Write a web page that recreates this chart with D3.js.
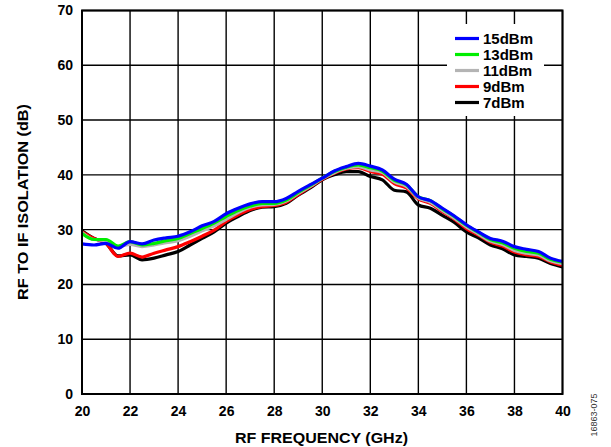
<!DOCTYPE html>
<html>
<head>
<meta charset="utf-8">
<script src="https://cdn.jsdelivr.net/npm/d3@7"></script>
<style>
  body { margin: 0; background: #fff; }
  svg { display: block; font-family: "Liberation Sans", Arial, sans-serif; }
</style>
</head>
<body>
<div id="chart"></div>
<script>
// frequencies in GHz, 0.5 GHz steps
var freq = [20, 20.5, 21, 21.5, 22, 22.5, 23, 23.5, 24, 24.5, 25, 25.5, 26, 26.5, 27, 27.5,
            28, 28.5, 29, 29.5, 30, 30.5, 31, 31.5, 32, 32.5, 33, 33.5, 34, 34.5, 35, 35.5,
            36, 36.5, 37, 37.5, 38, 38.5, 39, 39.5, 40];

var iso15 = [27.4, 27.2, 27.5, 26.6, 27.8, 27.4, 28.1, 28.5, 28.8, 29.6, 30.7, 31.5, 32.9, 33.9, 34.7, 35.1,
             35.1, 35.7, 37.0, 38.2, 39.4, 40.7, 41.5, 42.1, 41.6, 40.9, 39.2, 38.3, 36.0, 35.3, 33.9, 32.5,
             30.9, 29.6, 28.4, 27.9, 26.9, 26.4, 26.0, 24.8, 24.2];
var iso13 = [29.3, 28.2, 28.2, 27.0, 27.8, 27.2, 27.5, 28.0, 28.4, 29.3, 30.2, 31.2, 32.4, 33.5, 34.3, 34.8,
             34.8, 35.4, 36.8, 38.1, 39.4, 40.6, 41.4, 41.8, 41.3, 40.7, 39.0, 38.2, 36.0, 35.3, 33.8, 32.4,
             30.8, 29.5, 28.2, 27.6, 26.6, 26.0, 25.7, 24.6, 24.1];
var iso11 = [29.5, 28.2, 28.0, 26.9, 27.3, 26.9, 27.2, 27.6, 28.0, 28.8, 29.8, 30.7, 31.9, 33.1, 34.1, 34.5,
             34.6, 35.2, 36.6, 37.9, 39.3, 40.4, 41.2, 41.5, 40.9, 40.4, 38.7, 37.9, 35.8, 35.0, 33.5, 32.1,
             30.5, 29.2, 27.9, 27.3, 26.2, 25.7, 25.4, 24.3, 23.8];
var iso9  = [29.6, 28.4, 27.5, 25.1, 25.7, 25.0, 25.7, 26.3, 26.9, 27.8, 28.8, 29.9, 31.5, 32.7, 33.7, 34.2,
             34.4, 35.0, 36.4, 37.8, 39.2, 40.3, 41.1, 41.3, 40.6, 40.1, 38.4, 37.6, 35.6, 34.8, 33.3, 31.9,
             30.2, 29.0, 27.7, 27.0, 25.9, 25.4, 25.1, 24.1, 23.5];
var iso7  = [29.8, 28.4, 27.5, 25.2, 25.4, 24.5, 24.8, 25.4, 26.0, 27.2, 28.4, 29.6, 31.2, 32.4, 33.5, 34.1,
             34.2, 34.8, 36.3, 37.6, 39.1, 40.0, 40.6, 40.6, 39.7, 39.1, 37.2, 36.9, 34.5, 33.9, 32.6, 31.3,
             29.6, 28.5, 27.2, 26.5, 25.4, 25.1, 24.8, 23.8, 23.2];

var seriesNames = ["15dBm", "13dBm", "11dBm", "9dBm", "7dBm"];
var seriesColors = ["#0000ff", "#00ee00", "#b4b4b4", "#ff0000", "#000000"];
var seriesValues = [iso15, iso13, iso11, iso9, iso7];

var xTicks = [20, 22, 24, 26, 28, 30, 32, 34, 36, 38, 40];
var yTicks = [0, 10, 20, 30, 40, 50, 60, 70];

var W = 611, H = 447;
var margin = {top: 10.5, right: 48.5, bottom: 53, left: 82};
var width = W - margin.left - margin.right,
    height = H - margin.top - margin.bottom;

var svg = d3.select("#chart").append("svg")
    .attr("width", W)
    .attr("height", H);

var g = svg.append("g")
    .attr("transform", "translate(" + margin.left + "," + margin.top + ")");

var x = d3.scaleLinear().domain([20, 40]).range([0, width]);
var y = d3.scaleLinear().domain([0, 70]).range([height, 0]);

// grid
g.selectAll("line.vgrid").data(xTicks).enter().append("line")
    .attr("class", "vgrid")
    .attr("x1", function (d) { return x(d); })
    .attr("x2", function (d) { return x(d); })
    .attr("y1", 0).attr("y2", height)
    .attr("stroke", "#000").attr("stroke-width", 1.4);

g.selectAll("line.hgrid").data(yTicks).enter().append("line")
    .attr("class", "hgrid")
    .attr("x1", 0).attr("x2", width)
    .attr("y1", function (d) { return y(d); })
    .attr("y2", function (d) { return y(d); })
    .attr("stroke", "#000").attr("stroke-width", 1.4);

// axes (labels only)
var xAxis = g.append("g")
    .attr("transform", "translate(0," + height + ")")
    .call(d3.axisBottom(x).tickValues(xTicks).tickSize(0).tickPadding(12));
var yAxis = g.append("g")
    .call(d3.axisLeft(y).tickValues(yTicks).tickSize(0).tickPadding(9));

[xAxis, yAxis].forEach(function (a) {
    a.select(".domain").remove();
    a.selectAll("text")
        .attr("fill", "#000")
        .style("font-family", "'Liberation Sans', Arial, sans-serif")
        .style("font-size", "14px")
        .style("font-weight", "bold");
});

// lines
var line = d3.line()
    .x(function (d, i) { return x(freq[i]); })
    .y(function (d) { return y(d); })
    .curve(d3.curveMonotoneX);

var order = [4, 3, 2, 1, 0];
order.forEach(function (k) {
    g.append("path")
        .datum(seriesValues[k])
        .attr("fill", "none")
        .attr("stroke", seriesColors[k])
        .attr("stroke-width", 3.2)
        .attr("stroke-linejoin", "round")
        .attr("d", line);
});

// frame
g.append("rect")
    .attr("x", 0).attr("y", 0)
    .attr("width", width).attr("height", height)
    .attr("fill", "none")
    .attr("stroke", "#000")
    .attr("stroke-width", 2);

// legend
var legend = svg.append("g");
legend.append("rect")
    .attr("x", 447).attr("y", 24)
    .attr("width", 97).attr("height", 92)
    .attr("fill", "#fff");

seriesNames.forEach(function (name, i) {
    var yy = 38.5 + i * 16;
    legend.append("line")
        .attr("x1", 455).attr("x2", 479)
        .attr("y1", yy).attr("y2", yy)
        .attr("stroke", seriesColors[i])
        .attr("stroke-width", 3.2);
    legend.append("text")
        .attr("x", 483).attr("y", yy)
        .attr("dy", "0.36em")
        .style("font-size", "15px")
        .style("font-weight", "bold")
        .text(name);
});

// axis titles
svg.append("text")
    .attr("x", 321.5)
    .attr("y", 443)
    .attr("text-anchor", "middle")
    .attr("textLength", 173)
    .attr("lengthAdjust", "spacingAndGlyphs")
    .style("font-size", "14.5px")
    .style("font-weight", "bold")
    .text("RF FREQUENCY (GHz)");

svg.append("text")
    .attr("transform", "translate(27.5,202) rotate(-90)")
    .attr("text-anchor", "middle")
    .attr("textLength", 196)
    .attr("lengthAdjust", "spacingAndGlyphs")
    .style("font-size", "14.5px")
    .style("font-weight", "bold")
    .text("RF TO IF ISOLATION (dB)");

svg.append("text")
    .attr("transform", "translate(597,415) rotate(-90)")
    .attr("text-anchor", "middle")
    .style("font-size", "9px")
    .attr("fill", "#333")
    .text("16863-075");
</script>
</body>
</html>
